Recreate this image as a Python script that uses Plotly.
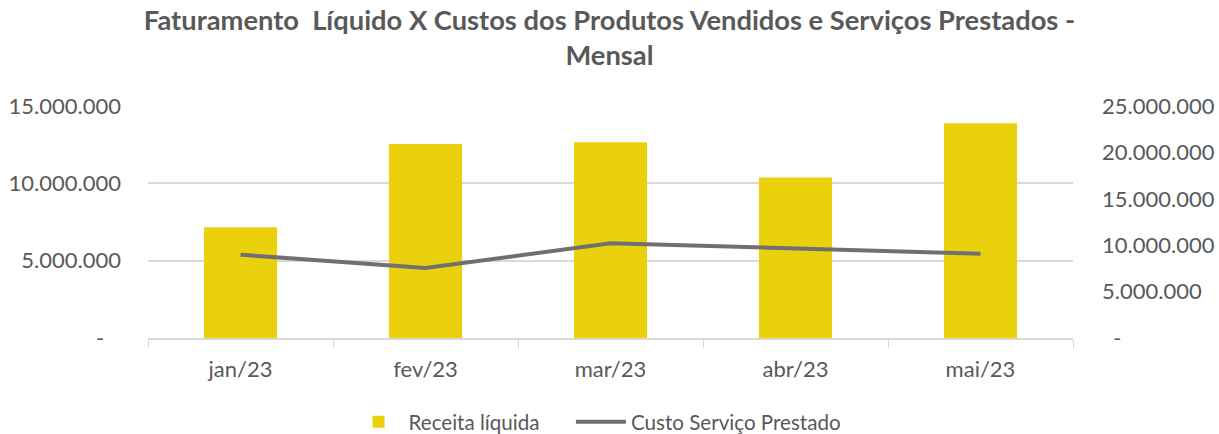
import plotly.graph_objects as go

categories = ["jan/23", "fev/23", "mar/23", "abr/23", "mai/23"]
receita_liquida = [7160000, 12540000, 12650000, 10380000, 13880000]
custo_servico = [8980000, 7540000, 10210000, 9670000, 9090000]

left_tickvals = [0, 5000000, 10000000, 15000000]
left_ticktext = ["-\u00a0\u00a0\u00a0", "5.000.000", "10.000.000", "15.000.000"]
right_tickvals = [0, 5000000, 10000000, 15000000, 20000000, 25000000]
right_ticktext = ["\u00a0\u00a0-", "5.000.000", "10.000.000", "15.000.000", "20.000.000", "25.000.000"]

TEXT = "#595959"
GRID = "#D9D9D9"
FONT = "Lato"

fig = go.Figure()
fig.add_trace(go.Bar(
    x=categories, y=receita_liquida, name="Receita líquida\u00a0\u00a0\u00a0\u00a0\u00a0",
    marker=dict(color="#EAD10B", line=dict(width=0)),
    width=0.395, yaxis="y",
))
fig.add_trace(go.Scatter(
    x=categories, y=custo_servico, name="Custo Serviço Prestado",
    mode="lines", line=dict(color="#707070", width=4), yaxis="y2",
))

fig.update_layout(
    width=1219, height=434,
    paper_bgcolor="white", plot_bgcolor="white",
    margin=dict(l=148, r=146, t=106, b=96, autoexpand=False),
    font=dict(family=FONT, color=TEXT, size=22),
    title=dict(
        text="<b>Faturamento  Líquido X Custos dos Produtos Vendidos e Serviços Prestados -<br>Mensal</b>",
        x=0.5, xanchor="center", y=0.932, yanchor="top",
        font=dict(family=FONT, size=27.3, color=TEXT),
    ),
    xaxis=dict(
        type="category", tickson="boundaries", ticks="outside", ticklen=8,
        tickcolor=GRID, showline=True, linecolor=GRID, linewidth=1.5,
        showgrid=False, tickfont=dict(size=22, color=TEXT),
        ticklabelstandoff=11, automargin=False,
    ),
    yaxis=dict(
        range=[0, 15000000], tickvals=left_tickvals, ticktext=left_ticktext,
        showgrid=True, gridcolor=GRID, gridwidth=1.5, zeroline=False,
        showline=False, ticks="", ticklabelstandoff=26, automargin=False,
        tickfont=dict(size=22, color=TEXT),
    ),
    yaxis2=dict(
        range=[0, 25000000], tickvals=right_tickvals, ticktext=right_ticktext,
        overlaying="y", side="right", showgrid=False, zeroline=False,
        showline=False, ticks="", ticklabelstandoff=28, automargin=False,
        tickfont=dict(size=22, color=TEXT),
    ),
    legend=dict(
        orientation="h", x=0.486, xanchor="center",
        yref="container", y=0.028, yanchor="middle",
        font=dict(size=20.6, color=TEXT), traceorder="normal",
        itemwidth=50,
    ),
    bargap=0.6,
)

fig.write_html("out.html", post_script="document.body.style.margin='0';",
               config={"displayModeBar": False})
